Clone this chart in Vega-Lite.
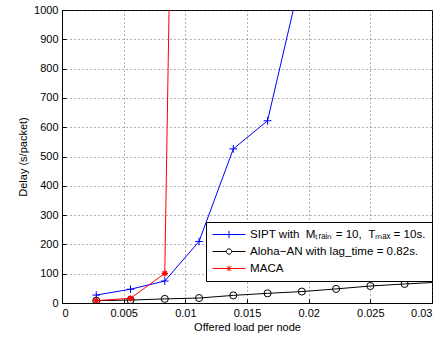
{
  "$schema": "https://vega.github.io/schema/vega-lite/v6.json",
  "width": 370,
  "height": 293,
  "autosize": "none",
  "padding": {"left": 62, "top": 10, "right": 14, "bottom": 34},
  "background": "white",
  "config": {
    "font": "Liberation Sans",
    "view": {"stroke": "black", "strokeWidth": 1},
    "axis": {
      "labelFont": "Liberation Sans",
      "titleFont": "Liberation Sans",
      "labelFontSize": 11,
      "titleFontSize": 11,
      "titleFontWeight": "normal",
      "labelColor": "black",
      "titleColor": "black",
      "domainColor": "black",
      "tickColor": "black",
      "gridColor": "#444",
      "gridDash": [1, 3],
      "gridOpacity": 0.8,
      "gridWidth": 1
    }
  },
  "data": {
    "values": [
      {"series": "SIPT", "x": 0.002778, "y": 27},
      {"series": "SIPT", "x": 0.005556, "y": 47},
      {"series": "SIPT", "x": 0.008333, "y": 75},
      {"series": "SIPT", "x": 0.011111, "y": 210},
      {"series": "SIPT", "x": 0.013889, "y": 526},
      {"series": "SIPT", "x": 0.016667, "y": 622},
      {"series": "SIPT", "x": 0.019444, "y": 1125},
      {"series": "Aloha", "x": 0.002778, "y": 8},
      {"series": "Aloha", "x": 0.005556, "y": 10},
      {"series": "Aloha", "x": 0.008333, "y": 14},
      {"series": "Aloha", "x": 0.011111, "y": 17},
      {"series": "Aloha", "x": 0.013889, "y": 26},
      {"series": "Aloha", "x": 0.016667, "y": 33},
      {"series": "Aloha", "x": 0.019444, "y": 39},
      {"series": "Aloha", "x": 0.022222, "y": 48},
      {"series": "Aloha", "x": 0.025, "y": 58},
      {"series": "Aloha", "x": 0.027778, "y": 65},
      {"series": "Aloha", "x": 0.030556, "y": 71},
      {"series": "MACA", "x": 0.002778, "y": 8},
      {"series": "MACA", "x": 0.005556, "y": 16},
      {"series": "MACA", "x": 0.008333, "y": 101},
      {"series": "MACA", "x": 0.011111, "y": 7300}
    ]
  },
  "encoding": {
    "x": {
      "field": "x",
      "type": "quantitative",
      "scale": {"domain": [0, 0.03], "nice": false, "zero": false},
      "axis": {
        "title": "Offered load per node",
        "values": [0, 0.005, 0.01, 0.015, 0.02, 0.025, 0.03],
        "format": "~g",
        "tickSize": -4,
        "labelPadding": 8,
        "titlePadding": 3,
        "grid": true
      }
    },
    "y": {
      "field": "y",
      "type": "quantitative",
      "scale": {"domain": [0, 1000], "nice": false},
      "axis": {
        "title": "Delay (s/packet)",
        "values": [0, 100, 200, 300, 400, 500, 600, 700, 800, 900, 1000],
        "format": "d",
        "tickSize": -4,
        "labelPadding": 8,
        "titlePadding": 5,
        "grid": true
      }
    }
  },
  "layer": [
    {
      "mark": {"type": "line", "clip": true, "strokeWidth": 1},
      "encoding": {
        "color": {
          "field": "series",
          "type": "nominal",
          "scale": {"domain": ["SIPT", "Aloha", "MACA"], "range": ["#0000ff", "#000000", "#ff0000"]},
          "legend": {
            "title": null,
            "orient": "none",
            "legendX": 144,
            "legendY": 212,
            "fillColor": "white",
            "strokeColor": "black",
            "padding": 6,
            "rowPadding": 4,
            "labelFontSize": 11.6,
            "labelFont": "Liberation Sans",
            "labelColor": "black",
            "labelLimit": 400,
            "labelOffset": 14.5,
            "symbolSize": 144,
            "symbolOffset": 10.5,
            "symbolStrokeWidth": 1,
            "symbolFillColor": "transparent",
            "labelExpr": "datum.value == 'SIPT' ? 'SIPT with\u00a0\u00a0Mₜᵣₐᵢₙ = 10,\u00a0\u00a0Tₘₐₓ = 10s.' : datum.value == 'Aloha' ? 'Aloha−AN with lag_time = 0.82s.' : 'MACA'",
            "encode": {
              "symbols": {
                "update": {
                  "shape": {"signal": "datum.value == 'SIPT' ? 'M-2.75,0H2.75M0,-0.6V0.6M-0.6,0H0.6' : datum.value == 'Aloha' ? 'M-2.75,0H-0.45M0.45,0H2.75M-0.45,0A0.45,0.45 0 1,1 0.45,0A0.45,0.45 0 1,1 -0.45,0' : 'M-2.75,0H2.75M0,-0.45V0.45M-0.35,-0.35L0.35,0.35M-0.35,0.35L0.35,-0.35'"},
                  "fill": {"value": "transparent"}
                }
              }
            }
          }
        }
      }
    },
    {
      "transform": [{"filter": "datum.series == 'SIPT'"}],
      "mark": {"type": "point", "clip": true, "filled": false, "strokeWidth": 1, "size": 60, "opacity": 1, "color": "#0000ff", "shape": "M-1,0H1M0,-1V1"}
    },
    {
      "transform": [{"filter": "datum.series == 'Aloha'"}],
      "mark": {"type": "point", "clip": true, "filled": false, "strokeWidth": 1, "size": 50, "opacity": 1, "color": "#000000", "shape": "circle"}
    },
    {
      "transform": [{"filter": "datum.series == 'MACA'"}],
      "mark": {"type": "point", "clip": true, "filled": false, "strokeWidth": 1.3, "size": 40, "opacity": 1, "color": "#ff0000", "shape": "M-1,0H1M0,-1V1M-0.7,-0.7L0.7,0.7M-0.7,0.7L0.7,-0.7"}
    }
  ]
}
